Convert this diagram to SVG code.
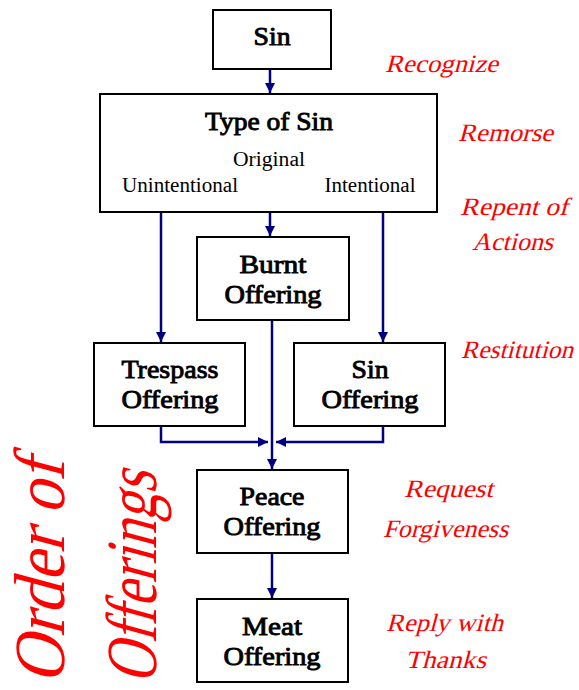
<svg xmlns="http://www.w3.org/2000/svg" width="579" height="690" viewBox="0 0 579 690">
<style>
.box{fill:#fff;stroke:#000;stroke-width:2}
.t{font-family:"Liberation Serif",serif;font-size:26px;text-anchor:middle;fill:#000;stroke:#000;stroke-width:0.9}
.n{font-family:"Liberation Serif",serif;font-size:20px;text-anchor:middle;fill:#000}
.c{fill:none;stroke:#000080;stroke-width:2.5}
.r{font-family:"Liberation Serif",serif;fill:#ff0000;font-size:25px}
.big{font-family:"Liberation Serif",serif;fill:#ff0000;font-size:72px}
</style>
<defs>
<marker id="ah" viewBox="0 0 10 10" refX="10" refY="5" markerWidth="4" markerHeight="4" orient="auto" markerUnits="strokeWidth">
<path d="M0,0 L10,5 L0,10 z" fill="#000080"/>
</marker>
</defs>
<rect width="579" height="690" fill="#fff"/>
<g id="connectors">
<path class="c" d="M270,69 V93" marker-end="url(#ah)"/>
<path class="c" d="M270,173 V236" marker-end="url(#ah)"/>
<path class="c" d="M161,195 V342" marker-end="url(#ah)"/>
<path class="c" d="M383,193 V342" marker-end="url(#ah)"/>
<path class="c" d="M272,320 V469" marker-end="url(#ah)"/>
<path class="c" d="M161,426 V442 H268" marker-end="url(#ah)"/>
<path class="c" d="M383,426 V442 H276" marker-end="url(#ah)"/>
<path class="c" d="M272,553 V598" marker-end="url(#ah)"/>
</g>
<g id="sin">
<rect class="box" x="213" y="10" width="118" height="59"/>
<text class="t" x="272" y="45" textLength="37" lengthAdjust="spacingAndGlyphs">Sin</text>
</g>
<g id="type-of-sin">
<rect class="box" x="100" y="94" width="337" height="118"/>
<text class="t" x="269" y="130" textLength="128" lengthAdjust="spacingAndGlyphs">Type of Sin</text>
<text class="n" x="269" y="166" textLength="72" lengthAdjust="spacingAndGlyphs">Original</text>
<text class="n" x="180" y="192" textLength="116" lengthAdjust="spacingAndGlyphs">Unintentional</text>
<text class="n" x="370" y="192" textLength="91" lengthAdjust="spacingAndGlyphs">Intentional</text>
</g>
<g id="burnt">
<rect class="box" x="197" y="237" width="152" height="83"/>
<text class="t" x="273" y="273" textLength="67" lengthAdjust="spacingAndGlyphs">Burnt</text>
<text class="t" x="273" y="303" textLength="97" lengthAdjust="spacingAndGlyphs">Offering</text>
</g>
<g id="trespass">
<rect class="box" x="94" y="343" width="151" height="83"/>
<text class="t" x="170" y="378" textLength="97" lengthAdjust="spacingAndGlyphs">Trespass</text>
<text class="t" x="170" y="408" textLength="97" lengthAdjust="spacingAndGlyphs">Offering</text>
</g>
<g id="sin-offering">
<rect class="box" x="294" y="343" width="151" height="83"/>
<text class="t" x="370" y="378" textLength="37" lengthAdjust="spacingAndGlyphs">Sin</text>
<text class="t" x="370" y="408" textLength="97" lengthAdjust="spacingAndGlyphs">Offering</text>
</g>
<g id="peace">
<rect class="box" x="197" y="470" width="151" height="83"/>
<text class="t" x="272" y="505" textLength="65" lengthAdjust="spacingAndGlyphs">Peace</text>
<text class="t" x="272" y="535" textLength="97" lengthAdjust="spacingAndGlyphs">Offering</text>
</g>
<g id="meat">
<rect class="box" x="197" y="599" width="151" height="83"/>
<text class="t" x="272" y="635" textLength="60" lengthAdjust="spacingAndGlyphs">Meat</text>
<text class="t" x="272" y="665" textLength="97" lengthAdjust="spacingAndGlyphs">Offering</text>
</g>
<g id="annotations">
<text class="r" transform="translate(385,72) skewX(-15)" textLength="113" lengthAdjust="spacingAndGlyphs">Recognize</text>
<text class="r" transform="translate(458,141) skewX(-15)" textLength="95" lengthAdjust="spacingAndGlyphs">Remorse</text>
<text class="r" transform="translate(460,215) skewX(-15)" textLength="108" lengthAdjust="spacingAndGlyphs">Repent of</text>
<text class="r" transform="translate(472,250) skewX(-15)" textLength="81" lengthAdjust="spacingAndGlyphs">Actions</text>
<text class="r" transform="translate(461,358) skewX(-15)" textLength="112" lengthAdjust="spacingAndGlyphs">Restitution</text>
<text class="r" transform="translate(404,497) skewX(-15)" textLength="89" lengthAdjust="spacingAndGlyphs">Request</text>
<text class="r" transform="translate(383,537) skewX(-15)" textLength="125" lengthAdjust="spacingAndGlyphs">Forgiveness</text>
<text class="r" transform="translate(386,631) skewX(-15)" textLength="117" lengthAdjust="spacingAndGlyphs">Reply with</text>
<text class="r" transform="translate(405,668) skewX(-15)" textLength="81" lengthAdjust="spacingAndGlyphs">Thanks</text>
<text class="big" transform="translate(64,684) rotate(-90) skewX(-15)" textLength="224" lengthAdjust="spacingAndGlyphs">Order of</text>
<text class="big" transform="translate(156,684) rotate(-90) skewX(-15)" textLength="212" lengthAdjust="spacingAndGlyphs">Offerings</text>
</g>
</svg>
